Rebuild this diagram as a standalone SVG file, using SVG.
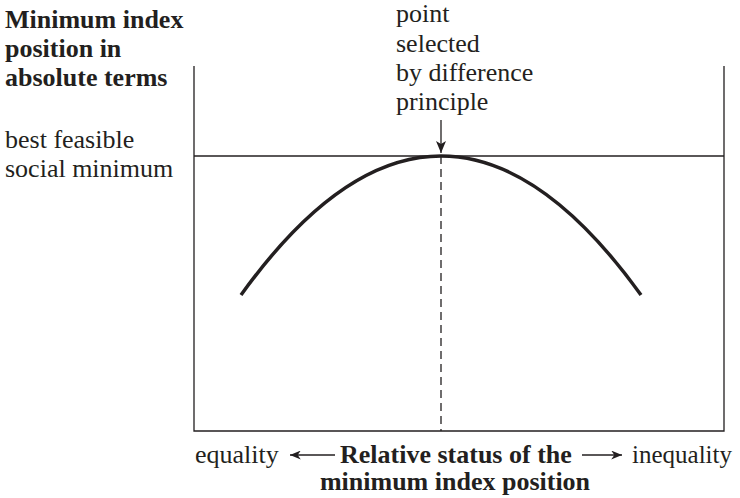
<svg xmlns="http://www.w3.org/2000/svg" width="740" height="498" viewBox="0 0 740 498">
<style>
text{font-family:"Liberation Serif","Times New Roman",serif;font-size:26px;fill:#231f20}
.b{font-weight:bold}
.ax{stroke:#231f20;stroke-width:1.3;fill:none}
</style>
<defs>
<marker id="ah" viewBox="0 0 12 10" refX="12" refY="5" markerWidth="14" markerHeight="9" markerUnits="userSpaceOnUse" orient="auto">
<path d="M0,0 L12,5 L0,10 L3.5,5 Z" fill="#231f20"/>
</marker>
<marker id="ah2" viewBox="0 0 12 10" refX="12" refY="5" markerWidth="13" markerHeight="10" markerUnits="userSpaceOnUse" orient="auto">
<path d="M0,0 L12,5 L0,10 L3,5 Z" fill="#231f20"/>
</marker>
</defs>
<g id="axes">
<path class="ax" d="M194,66 V431 H724 V66"/>
<line class="ax" x1="194" y1="156" x2="724" y2="156"/>
<line class="ax" x1="441" y1="156" x2="441" y2="431" stroke-dasharray="8,5"/>
</g>
<g id="curve">
<path d="M241,295 Q441,17 641,295" fill="none" stroke="#231f20" stroke-width="3.5"/>
</g>
<g id="y-label">
<text class="b" x="5" y="28">Minimum index</text>
<text class="b" x="5" y="57">position in</text>
<text class="b" x="5" y="86">absolute terms</text>
</g>
<g id="best-label">
<text x="5" y="148">best feasible</text>
<text x="5" y="177">social minimum</text>
</g>
<g id="point-label">
<text x="396" y="22">point</text>
<text x="396" y="52">selected</text>
<text x="396" y="81">by difference</text>
<text x="396" y="110">principle</text>
</g>
<g id="connectors">
<line class="ax" x1="441" y1="120" x2="441" y2="153" marker-end="url(#ah2)"/>
<line class="ax" x1="335" y1="455" x2="290" y2="455" marker-end="url(#ah)"/>
<line class="ax" x1="582" y1="455" x2="622" y2="455" marker-end="url(#ah)"/>
</g>
<g id="x-label">
<text x="195" y="463">equality</text>
<text class="b" x="340" y="463">Relative status of the</text>
<text x="632" y="463" style="font-size:25px">inequality</text>
<text class="b" x="455" y="490" text-anchor="middle">minimum index position</text>
</g>
</svg>
